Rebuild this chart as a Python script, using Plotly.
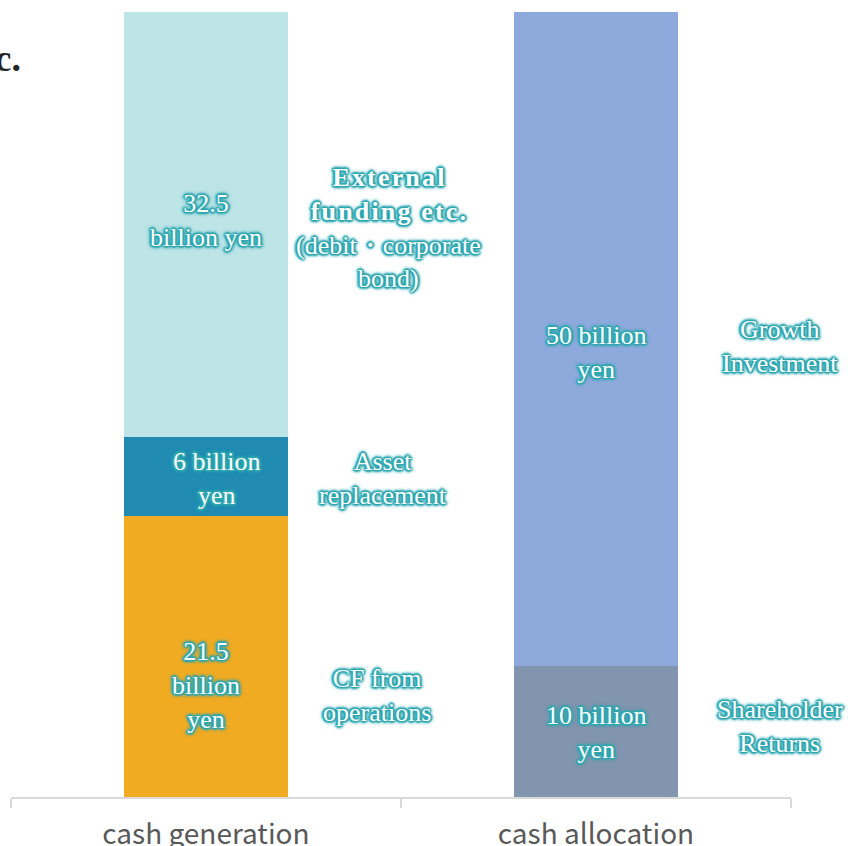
import plotly.graph_objects as go

categories = ["cash generation", "cash allocation"]

# stacked segments (billion yen), bottom to top
gen_names = ["CF from operations", "Asset replacement", "External funding"]
gen_values = [21.5, 6, 32.5]
alloc_names = ["Shareholder Returns", "Growth Investment"]
alloc_values = [10, 50]

gen_colors = ["#f0ab22", "#218bb2", "#bde4e6"]
alloc_colors = ["#8295ae", "#8eaadc"]

gen_value_labels = ["21.5<br>billion<br>yen", "6 billion<br>yen", "32.5<br>billion yen"]
gen_desc_labels = ["CF from<br>operations", "Asset<br>replacement",
                   "<b>E\u200ax\u200at\u200ae\u200ar\u200an\u200aa\u200al</b><br><b>f\u200au\u200an\u200ad\u200ai\u200an\u200ag\u200a \u200ae\u200at\u200ac\u200a.</b><br>(debit・corporate<br>bond)"]
alloc_value_labels = ["10 billion<br>yen", "50 billion<br>yen"]
alloc_desc_labels = ["Shareholder<br>Returns", "Growth<br>Investment"]

G = "#2ea7b0"
shadow = (f"1px 1px 1px {G}, -1px -1px 1px {G}, 1px -1px 1px {G}, -1px 1px 1px {G}, "
          f"2px 0px 2px {G}, -2px 0px 2px {G}, 0px 2px 2px {G}, 0px -2px 2px {G}, "
          f"0px 0px 4px {G}, 0px 0px 5px {G}")
label_font = dict(family="Liberation Serif, Times New Roman, serif", size=26, color="white", shadow=shadow)

fig = go.Figure()
for name, v, c in zip(gen_names, gen_values, gen_colors):
    fig.add_trace(go.Bar(x=[categories[0]], y=[v], name=name, marker=dict(color=c, line=dict(width=0)),
                         width=0.42, hoverinfo="skip"))
for name, v, c in zip(alloc_names, alloc_values, alloc_colors):
    fig.add_trace(go.Bar(x=[categories[1]], y=[v], name=name, marker=dict(color=c, line=dict(width=0)),
                         width=0.42, hoverinfo="skip"))


def mids(vals):
    out, base = [], 0
    for v in vals:
        out.append(base + v / 2)
        base += v
    return out

# fine tuning (pixel shifts) for label placement
gen_val_shift = [(0, -29), (10, -2), (0, 4)]
gen_desc_shift = [(171, -39), (177, -2), (182, -3)]
alloc_val_shift = [(0, -1), (0, -13)]
alloc_desc_shift = [(184, 5), (184, -7)]

annotations = []
for lab, m, (dx, dy) in zip(gen_value_labels, mids(gen_values), gen_val_shift):
    annotations.append(dict(x=categories[0], y=m, text=lab, showarrow=False, xshift=dx, yshift=dy, font=label_font))
for lab, m, (dx, dy) in zip(gen_desc_labels, mids(gen_values), gen_desc_shift):
    annotations.append(dict(x=categories[0], y=m, text=lab, showarrow=False, xshift=dx, yshift=dy, font=label_font))
for lab, m, (dx, dy) in zip(alloc_value_labels, mids(alloc_values), alloc_val_shift):
    annotations.append(dict(x=categories[1], y=m, text=lab, showarrow=False, xshift=dx, yshift=dy, font=label_font))
for lab, m, (dx, dy) in zip(alloc_desc_labels, mids(alloc_values), alloc_desc_shift):
    annotations.append(dict(x=categories[1], y=m, text=lab, showarrow=False, xshift=dx, yshift=dy, font=label_font))

# cut-off title fragment at top-left
annotations.append(dict(xref="paper", yref="paper", x=0.015, y=0.9415, xanchor="right", yanchor="middle",
                        text="<b>etc.</b>", showarrow=False,
                        font=dict(family="Liberation Serif, Times New Roman, serif", size=38, color="#262626")))

fig.update_layout(
    width=848, height=846,
    margin=dict(l=11, r=57, t=12, b=49, autoexpand=False),
    barmode="stack",
    showlegend=False,
    plot_bgcolor="white", paper_bgcolor="white",
    annotations=annotations,
    xaxis=dict(type="category", showline=True, linecolor="#d9d9d9", linewidth=1.5,
               ticks="outside", tickson="boundaries", ticklen=9, tickcolor="#d9d9d9", tickwidth=1.5,
               tickfont=dict(family="Noto Sans CJK JP, sans-serif", size=28, color="#595959"),
               ticklabelstandoff=12, automargin=False,
               showgrid=False, range=[-0.5, 1.5]),
    yaxis=dict(range=[0, 60], visible=False, showgrid=False, zeroline=False, automargin=False),
)

fig.write_html("out.html", config={"displayModeBar": False},
               post_script="document.body.style.margin='0';document.body.style.overflow='hidden';")
